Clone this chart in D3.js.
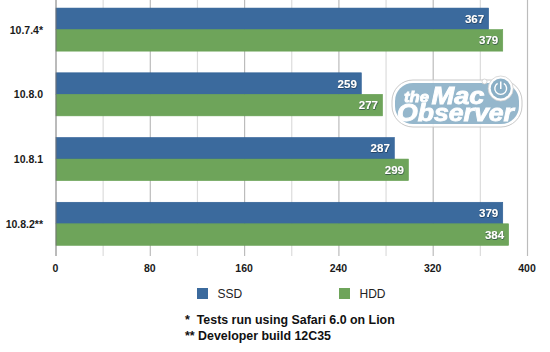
<!DOCTYPE html>
<html><head><meta charset="utf-8">
<script src="https://cdn.jsdelivr.net/npm/d3@7"></script>
<style>
html,body{margin:0;padding:0;background:#fff}
svg{display:block;font-family:"Liberation Sans",Arial,sans-serif}
</style></head><body>
<svg id="c" width="550" height="352"></svg>
<script>
const categories = ["10.7.4*","10.8.0","10.8.1","10.8.2**"];
const ssd = [367,259,287,379];
const hdd = [379,277,299,384];
const seriesNames = ["SSD","HDD"];
const seriesColors = ["#3b6a9d","#6ea45a"];
const seriesEdges = ["#2b5d94","#65a052"];
const majorTicks = [0,80,160,240,320,400];
const minorTicks = [40,120,200,280,360];
const footnotes = ["*  Tests run using Safari 6.0 on Lion","** Developer build 12C35"];

const svg = d3.select("#c");
const x = d3.scaleLinear().domain([0,400]).range([56,527.5]);
const y = d3.scaleBand().domain(categories).range([-2.6,256]).paddingInner(0.335).paddingOuter(0.165);
const inner = d3.scaleBand().domain(seriesNames).range([0,y.bandwidth()]);

const defs = svg.append("defs");
const f = defs.append("filter").attr("id","ts").attr("x","-20%").attr("y","-20%").attr("width","140%").attr("height","140%");
f.append("feDropShadow").attr("dx",0.4).attr("dy",0.6).attr("stdDeviation",0.5).attr("flood-color","#10233a").attr("flood-opacity",0.9);
const soft = defs.append("filter").attr("id","soft");
soft.append("feGaussianBlur").attr("stdDeviation",0.25);

// grid
const grid = svg.append("g").attr("class","grid");
grid.selectAll("line.minor").data(minorTicks).join("line").attr("class","minor")
  .attr("x1",d=>x(d)).attr("x2",d=>x(d)).attr("y1",0).attr("y2",256)
  .attr("stroke","#dcdcdc").attr("stroke-width",1.2);
grid.selectAll("line.major").data(majorTicks.slice(1)).join("line").attr("class","major")
  .attr("x1",d=>x(d)).attr("x2",d=>x(d)).attr("y1",0).attr("y2",256)
  .attr("stroke","#bcbcbc").attr("stroke-width",1.2);

// bars
const groups = svg.append("g").selectAll("g").data(categories).join("g")
  .attr("transform",d=>`translate(0,${y(d)})`);
[ssd,hdd].forEach((vals,s)=>{
  groups.append("rect")
    .attr("x",x(0))
    .attr("y",inner(seriesNames[s]))
    .attr("width",(d,i)=>x(vals[i])-x(0))
    .attr("height",inner.bandwidth())
    .attr("fill",seriesColors[s])
    .attr("stroke",seriesEdges[s]).attr("stroke-width",0.6);
  groups.append("text")
    .attr("x",(d,i)=>x(vals[i])-4.5)
    .attr("y",inner(seriesNames[s])+inner.bandwidth()/2+4)
    .attr("text-anchor","end")
    .attr("fill","#fff").attr("font-weight","bold").attr("font-size",11.5)
    .attr("filter","url(#ts)")
    .text((d,i)=>vals[i]);
});

// y axis line + category labels
svg.append("line").attr("x1",x(0)).attr("x2",x(0)).attr("y1",0).attr("y2",256)
  .attr("stroke","#777").attr("stroke-width",1);
svg.append("g").selectAll("text").data(categories).join("text")
  .attr("x",43).attr("y",d=>y(d)+y.bandwidth()/2+4)
  .attr("text-anchor","end").attr("font-size",10.5).attr("font-weight","bold").attr("fill","#1a1a1a")
  .text(d=>d);

// x axis
const xAxis = d3.axisBottom(x).tickValues(majorTicks).tickSize(0).tickPadding(0);
const gx = svg.append("g").attr("transform","translate(0,256)").call(xAxis);
gx.select(".domain").remove();
gx.selectAll("text").attr("y",0).attr("dy",0).attr("transform","translate(-1,16)")
  .attr("font-size",10.5).attr("font-weight","bold").attr("fill","#1a1a1a")
  .attr("font-family",'"Liberation Sans",Arial,sans-serif');

// legend
const legendX = [197,339];
const lg = svg.append("g").selectAll("g").data(seriesNames).join("g")
  .attr("transform",(d,i)=>`translate(${legendX[i]},288)`);
lg.append("rect").attr("width",11).attr("height",11).attr("fill",(d,i)=>seriesColors[i]);
lg.append("text").attr("x",20.5).attr("y",10).attr("font-size",12).attr("fill","#222").text(d=>d);

// footnotes
svg.append("g").selectAll("text").data(footnotes).join("text")
  .attr("x",185).attr("y",(d,i)=>324+i*15.5)
  .attr("font-size",12.4).attr("font-weight","bold").attr("fill","#111")
  .attr("xml:space","preserve").style("white-space","pre").text(d=>d);

// logo
const logo = svg.append("g").attr("filter","url(#soft)");
logo.append("rect").attr("x",392).attr("y",80).attr("width",130).attr("height",47).attr("rx",21)
  .attr("fill","#fff").attr("fill-opacity",0.85).attr("stroke","#c8c8c8").attr("stroke-width",1);
logo.append("rect").attr("x",395).attr("y",83).attr("width",124).attr("height",41).attr("rx",18)
  .attr("fill","#8aafc6").attr("fill-opacity",0.9);
logo.append("circle").attr("cx",484.5).attr("cy",81.5).attr("r",2.5).attr("fill","#fff").attr("stroke","#c8c8c8").attr("stroke-width",0.7);
logo.append("circle").attr("cx",500.7).attr("cy",88.5).attr("r",12.5).attr("fill","#fff").attr("stroke","#d0d0d0").attr("stroke-width",0.8);
logo.append("circle").attr("cx",500.7).attr("cy",88.5).attr("r",10).attr("fill","#8aafc6");
logo.append("path").attr("d",d3.arc()({innerRadius:5.2,outerRadius:6.6,startAngle:0.55,endAngle:2*Math.PI-0.55}))
  .attr("transform","translate(500.7,88.5)").attr("fill","#fff");
logo.append("rect").attr("x",500).attr("y",81.5).attr("width",1.5).attr("height",7.5).attr("fill","#fff");
const logoText = [["the",404,102,15,25],["Mac",431.5,103.5,23,53],["Observer",397,121,23,117]];
logo.selectAll("text").data(logoText).join("text")
  .attr("x",d=>d[1]).attr("y",d=>d[2]).attr("font-size",d=>d[3])
  .attr("textLength",d=>d[4]).attr("lengthAdjust","spacingAndGlyphs")
  .attr("font-weight","bold").attr("font-style","italic").attr("fill","#fff")
  .attr("stroke","#fff").attr("stroke-width",0.8)
  .attr("font-family",'"Liberation Sans",Arial,sans-serif')
  .text(d=>d[0]);
</script>
</body></html>
